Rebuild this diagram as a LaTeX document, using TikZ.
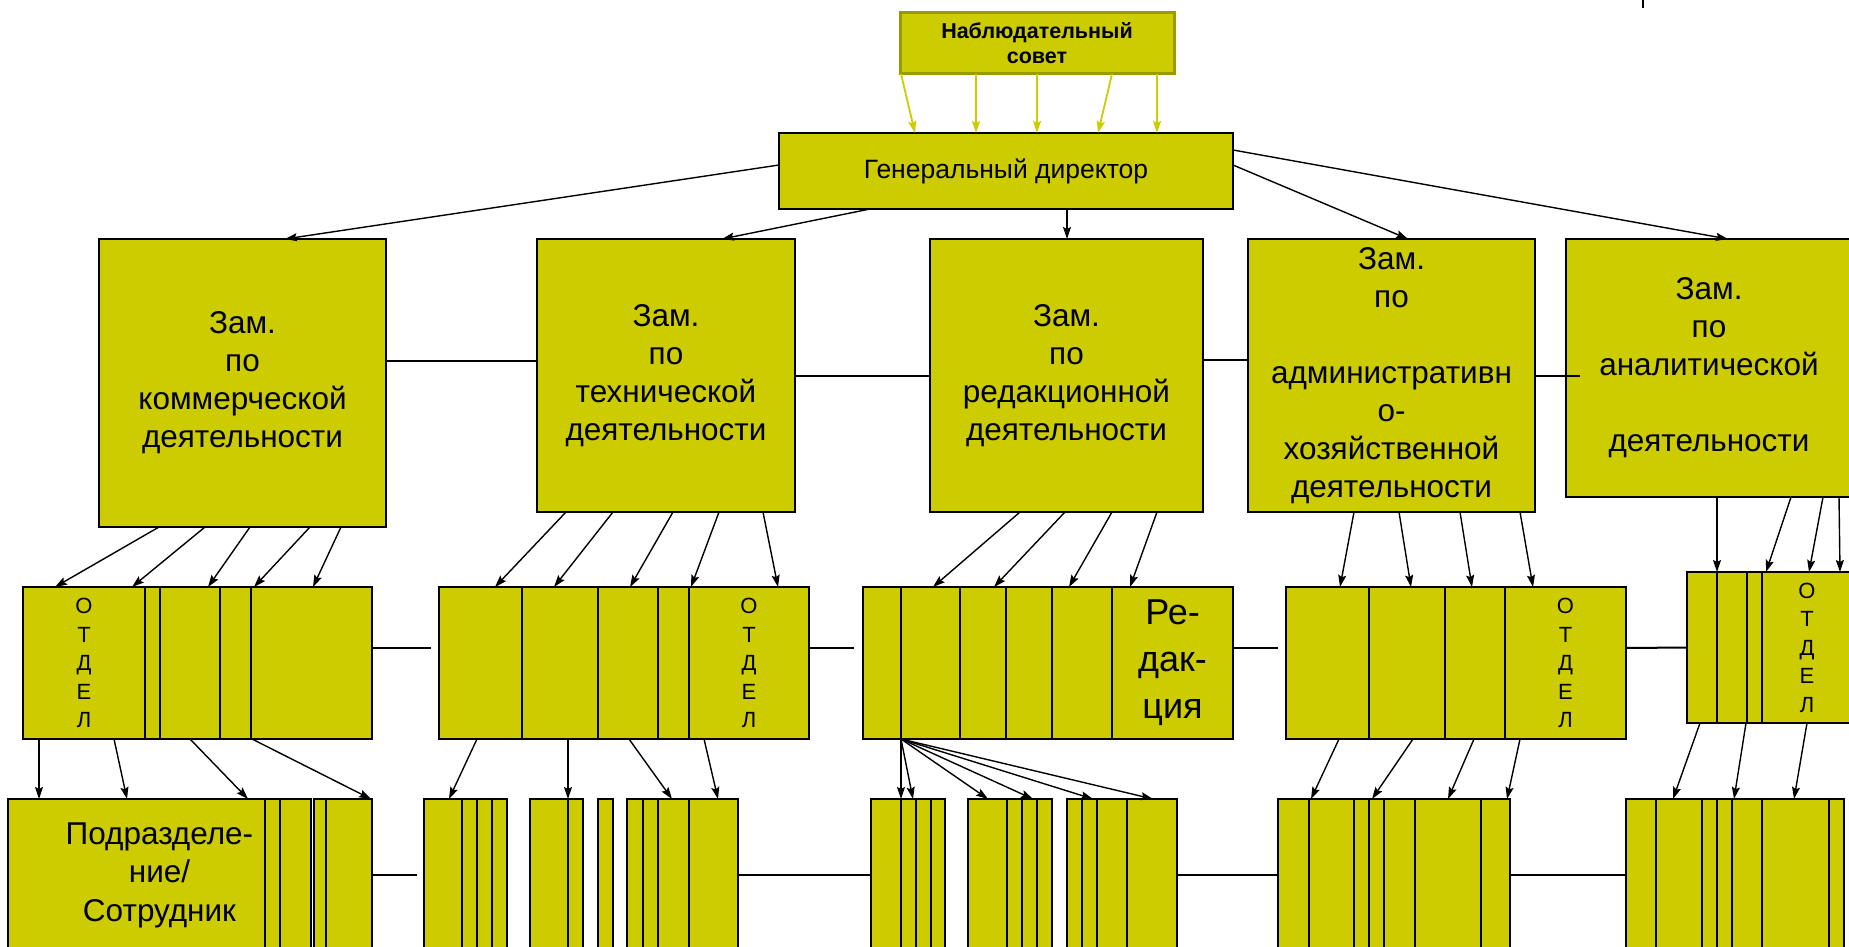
\documentclass[tikz,border=0pt]{standalone}
\usepackage{fontspec}
\setmainfont{Liberation Sans}
\usetikzlibrary{arrows.meta}
\definecolor{olv}{RGB}{204,204,0}
\definecolor{olvdark}{RGB}{153,153,0}
\tikzset{
 box/.style={draw=black, line width=2pt, fill=olv, inner sep=0pt, outer sep=0pt, anchor=north west, align=center, text=black},
 arr/.style={line width=1.4pt, -{Stealth[length=12pt,width=8pt,inset=2pt]}},
 yarr/.style={draw=olv, line width=1.8pt, -{Stealth[length=12pt,width=8pt,inset=2pt]}},
 link/.style={line width=2pt},
 zamtext/.style={font=\fontsize{31.5}{38}\selectfont},
 otdel/.style={font=\fontsize{22}{28.5}\selectfont},
 redak/.style={font=\fontsize{36}{47}\selectfont},
}
\newcommand\bx[7][]{\node[box,minimum width={(#5-#3)*1pt},minimum height={(#6-#4)*1pt},#1] (#2) at (#3,#4) {#7};}
\begin{document}
\begin{tikzpicture}[x=1pt,y=-1pt]
\useasboundingbox (0,0) rectangle (1849,947);
\fill[white] (0,0) rectangle (1849,947);
\clip (0,0) rectangle (1849,947);

% top level
\bx[draw=olvdark,line width=3pt,font=\bfseries\fontsize{21.5}{25}\selectfont]{ns}{900}{13}{1174}{74}{Наблюдательный\\совет}
\bx[font=\fontsize{26.5}{30}\selectfont]{gd}{779}{133}{1233}{209}{Генеральный директор}

% deputies
\bx[zamtext]{z1}{99}{239}{386}{527}{Зам.\\по\\коммерческой\\деятельности}
\bx[zamtext]{z2}{537}{239}{795}{512}{Зам.\\по\\технической\\деятельности}
\bx[zamtext]{z3}{930}{239}{1203}{512}{Зам.\\по\\редакционной\\деятельности}
\bx[zamtext]{z4}{1248}{239}{1535}{512}{Зам.\\по\\[38pt]административн\\о-\\хозяйственной\\деятельности}
\bx[zamtext]{z5}{1566}{239}{1852}{497}{Зам.\\по\\аналитической\\[38pt]деятельности}

% row 3
\bx[otdel]{g1a}{23}{587}{145}{739}{О\\Т\\Д\\Е\\Л}
\bx{g1b}{145}{587}{160}{739}{}
\bx{g1c}{160}{587}{220}{739}{}
\bx{g1d}{220}{587}{251}{739}{}
\bx{g1e}{251}{587}{372}{739}{}

\bx{g2a}{439}{587}{522}{739}{}
\bx{g2b}{522}{587}{598}{739}{}
\bx{g2c}{598}{587}{658}{739}{}
\bx{g2d}{658}{587}{689}{739}{}
\bx[otdel]{g2e}{689}{587}{809}{739}{О\\Т\\Д\\Е\\Л}

\bx{g3a}{863}{587}{901}{739}{}
\bx{g3b}{901}{587}{960}{739}{}
\bx{g3c}{960}{587}{1006}{739}{}
\bx{g3d}{1006}{587}{1052}{739}{}
\bx{g3e}{1052}{587}{1112}{739}{}
\bx[redak]{g3f}{1112}{587}{1233}{739}{Ре-\\дак-\\ция}

\bx{g4a}{1286}{587}{1369}{739}{}
\bx{g4b}{1369}{587}{1445}{739}{}
\bx{g4c}{1445}{587}{1505}{739}{}
\bx[otdel]{g4d}{1505}{587}{1626}{739}{О\\Т\\Д\\Е\\Л}

\bx{g5a}{1687}{572}{1717}{723}{}
\bx{g5b}{1717}{572}{1747}{723}{}
\bx{g5c}{1747}{572}{1762}{723}{}
\bx[otdel]{g5d}{1762}{572}{1852}{723}{О\\Т\\Д\\Е\\Л}

% row 4
\bx[font=\fontsize{31.5}{38.5}\selectfont]{h1}{8}{799}{311}{951}{Подразделе-\\ние/\\Сотрудник}
\bx{h1b}{265}{799}{280}{951}{}
\bx{h1c}{280}{799}{311}{951}{}
\bx{h2a}{314}{799}{326}{951}{}
\bx{h2b}{326}{799}{372}{951}{}

\bx{hb1}{424}{799}{462}{951}{}
\bx{hb2}{462}{799}{477}{951}{}
\bx{hb3}{477}{799}{492}{951}{}
\bx{hb4}{492}{799}{507}{951}{}

\bx{hc1}{530}{799}{568}{951}{}
\bx{hc2}{568}{799}{583}{951}{}

\bx{hd1}{598}{799}{613}{951}{}

\bx{he1}{627}{799}{643}{951}{}
\bx{he2}{643}{799}{658}{951}{}
\bx{he3}{658}{799}{689}{951}{}
\bx{he4}{689}{799}{738}{951}{}

\bx{hf1}{871}{799}{901}{951}{}
\bx{hf2}{901}{799}{916}{951}{}
\bx{hf3}{916}{799}{931}{951}{}
\bx{hf4}{931}{799}{945}{951}{}

\bx{hg1}{968}{799}{1007}{951}{}
\bx{hg2}{1007}{799}{1022}{951}{}
\bx{hg3}{1022}{799}{1037}{951}{}
\bx{hg4}{1037}{799}{1052}{951}{}

\bx{hh1}{1067}{799}{1082}{951}{}
\bx{hh2}{1082}{799}{1097}{951}{}
\bx{hh3}{1097}{799}{1127}{951}{}
\bx{hh4}{1127}{799}{1177}{951}{}

\bx{hi1}{1278}{799}{1309}{951}{}
\bx{hi2}{1309}{799}{1354}{951}{}
\bx{hi3}{1354}{799}{1369}{951}{}
\bx{hi4}{1369}{799}{1384}{951}{}
\bx{hi5}{1384}{799}{1415}{951}{}
\bx{hi6}{1415}{799}{1481}{951}{}
\bx{hi7}{1481}{799}{1510}{951}{}

\bx{hj1}{1626}{799}{1656}{951}{}
\bx{hj2}{1656}{799}{1702}{951}{}
\bx{hj3}{1702}{799}{1717}{951}{}
\bx{hj4}{1717}{799}{1732}{951}{}
\bx{hj5}{1732}{799}{1762}{951}{}
\bx{hj6}{1762}{799}{1829}{951}{}
\bx{hj7}{1829}{799}{1844}{951}{}

% free ends
\coordinate (c1) at (431,648);
\coordinate (c2) at (854,648);
\coordinate (c3) at (1278,648);
\coordinate (c4) at (417,875);
\coordinate (c5) at (1580,375.5);
\coordinate (tk1) at (1643,0);
\coordinate (tk2) at (1643,8);
\draw[line width=2pt] (tk1) -- (tk2);

% horizontal links
\draw[link] ([yshift=-122pt]z1.north east) -- ([yshift=-122pt]z2.north west);
\draw[link] (z2.east) -- (z3.west);
\draw[link] ([yshift=-121pt]z3.north east) -- ([yshift=-121pt]z4.north west);
\draw[link] (z4.east) -- (c5);

\draw[link] ([yshift=-61pt]g1e.north east) -- (c1);
\draw[link] ([yshift=-61pt]g2e.north east) -- (c2);
\draw[link] ([yshift=-61pt]g3f.north east) -- (c3);
\draw[link] ([yshift=-61pt]g4d.north east) -- (g5a.west);

\draw[link] ([yshift=-76pt]h2b.north east) -- (c4);
\draw[link] ([yshift=-76pt]he4.north east) -- ([yshift=-76pt]hf1.north west);
\draw[link] ([yshift=-76pt]hh4.north east) -- ([yshift=-76pt]hi1.north west);
\draw[link] ([yshift=-76pt]hi7.north east) -- ([yshift=-76pt]hj1.north west);

% supervisory board -> director
\foreach \a/\b in {1/136, 76/197, 137/258, 212/319, 257/378}
  \draw[yarr] ([xshift=\a pt]ns.south west) -- ([xshift=\b pt]gd.north west);

% director -> deputies
\draw[arr] ([yshift=-32pt]gd.north west) -- ([xshift=186pt]z1.north west);
\draw[arr] ([xshift=91pt]gd.south west) -- ([xshift=185pt]z2.north west);
\draw[arr] ([xshift=288pt]gd.south west) -- ([xshift=137pt]z3.north west);
\draw[arr] ([yshift=-32pt]gd.north east) -- ([xshift=160pt]z4.north west);
\draw[arr] ([yshift=-17pt]gd.north east) -- ([xshift=162pt]z5.north west);

% deputies -> departments
\foreach \a/\b in {60/32, 106/109, 151/185, 211/231, 242/290}
  \draw[arr] ([xshift=\a pt]z1.south west) -- ([xshift=\b pt]g1a.north west);
\foreach \a/\b in {29/56, 76/115, 136/191, 182/252, 226/339}
  \draw[arr] ([xshift=\a pt]z2.south west) -- ([xshift=\b pt]g2a.north west);
\foreach \a/\b in {90/70, 135/131, 182/206, 227/267}
  \draw[arr] ([xshift=\a pt]z3.south west) -- ([xshift=\b pt]g3a.north west);
\foreach \a/\b in {106/54, 151/125, 212/186, 272/247}
  \draw[arr] ([xshift=\a pt]z4.south west) -- ([xshift=\b pt]g4a.north west);
\foreach \a/\b in {151/30, 225/79, 257/122, 273/153}
  \draw[arr] ([xshift=\a pt]z5.south west) -- ([xshift=\b pt]g5a.north west);

% departments -> units
\foreach \a/\b in {16/31, 91/119, 167/240, 229/363}
  \draw[arr] ([xshift=\a pt]g1a.south west) -- ([xshift=\b pt]h1.north west);
\draw[arr] ([xshift=38pt]g2a.south west) -- ([xshift=25pt]hb1.north west);
\draw[arr] ([xshift=129pt]g2a.south west) -- ([xshift=38pt]hc1.north west);
\draw[arr] ([xshift=190pt]g2a.south west) -- ([xshift=45pt]he1.north west);
\draw[arr] ([xshift=265pt]g2a.south west) -- ([xshift=91pt]he1.north west);
\draw[arr] (g3b.south west) -- ([xshift=30pt]hf1.north west);
\draw[arr] (g3b.south west) -- ([xshift=42pt]hf1.north west);
\draw[arr] (g3b.south west) -- ([xshift=20pt]hg1.north west);
\draw[arr] (g3b.south west) -- ([xshift=65pt]hg1.north west);
\draw[arr] (g3b.south west) -- ([xshift=26pt]hh1.north west);
\draw[arr] (g3b.south west) -- ([xshift=86pt]hh1.north west);
\foreach \a/\b in {53/33, 127/94, 188/170, 234/229}
  \draw[arr] ([xshift=\a pt]g4a.south west) -- ([xshift=\b pt]hi1.north west);
\foreach \a/\b in {13/47, 59/108, 120/168}
  \draw[arr] ([xshift=\a pt]g5a.south west) -- ([xshift=\b pt]hj1.north west);
\end{tikzpicture}
\end{document}
